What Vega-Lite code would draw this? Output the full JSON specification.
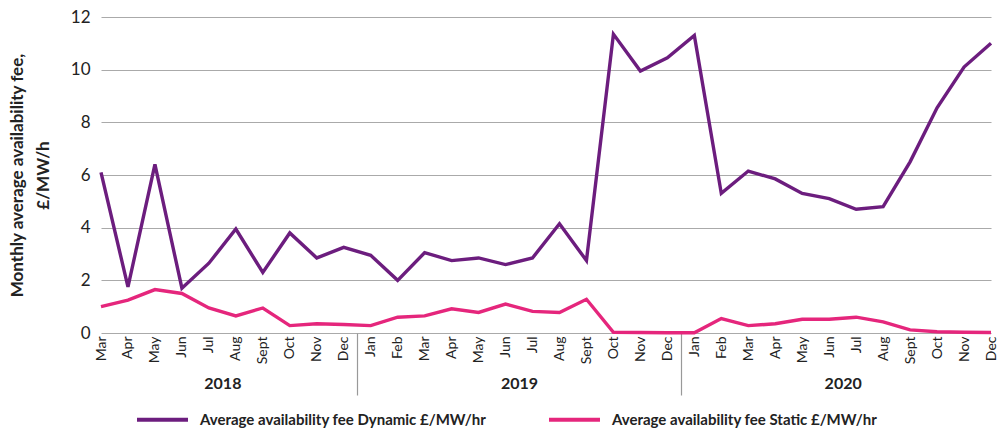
{
  "$schema": "https://vega.github.io/schema/vega-lite/v6.json",
  "width": 890,
  "height": 316,
  "autosize": {"type": "none"},
  "padding": {"left": 101, "top": 17, "right": 14, "bottom": 95},
  "background": "white",
  "config": {
    "font": "Lato",
    "view": {"stroke": null},
    "axis": {"labelColor": "#222", "titleColor": "#222"}
  },
  "datasets": {
    "fees": [
      {"t": 0, "series": "Average availability fee Dynamic £/MW/hr", "value": 6.1},
      {"t": 1, "series": "Average availability fee Dynamic £/MW/hr", "value": 1.75},
      {"t": 2, "series": "Average availability fee Dynamic £/MW/hr", "value": 6.4},
      {"t": 3, "series": "Average availability fee Dynamic £/MW/hr", "value": 1.7},
      {"t": 4, "series": "Average availability fee Dynamic £/MW/hr", "value": 2.65},
      {"t": 5, "series": "Average availability fee Dynamic £/MW/hr", "value": 3.95},
      {"t": 6, "series": "Average availability fee Dynamic £/MW/hr", "value": 2.3},
      {"t": 7, "series": "Average availability fee Dynamic £/MW/hr", "value": 3.8},
      {"t": 8, "series": "Average availability fee Dynamic £/MW/hr", "value": 2.85},
      {"t": 9, "series": "Average availability fee Dynamic £/MW/hr", "value": 3.25},
      {"t": 10, "series": "Average availability fee Dynamic £/MW/hr", "value": 2.95},
      {"t": 11, "series": "Average availability fee Dynamic £/MW/hr", "value": 2.0},
      {"t": 12, "series": "Average availability fee Dynamic £/MW/hr", "value": 3.05},
      {"t": 13, "series": "Average availability fee Dynamic £/MW/hr", "value": 2.75},
      {"t": 14, "series": "Average availability fee Dynamic £/MW/hr", "value": 2.85},
      {"t": 15, "series": "Average availability fee Dynamic £/MW/hr", "value": 2.6},
      {"t": 16, "series": "Average availability fee Dynamic £/MW/hr", "value": 2.85},
      {"t": 17, "series": "Average availability fee Dynamic £/MW/hr", "value": 4.15},
      {"t": 18, "series": "Average availability fee Dynamic £/MW/hr", "value": 2.75},
      {"t": 19, "series": "Average availability fee Dynamic £/MW/hr", "value": 11.35},
      {"t": 20, "series": "Average availability fee Dynamic £/MW/hr", "value": 9.95},
      {"t": 21, "series": "Average availability fee Dynamic £/MW/hr", "value": 10.45},
      {"t": 22, "series": "Average availability fee Dynamic £/MW/hr", "value": 11.3},
      {"t": 23, "series": "Average availability fee Dynamic £/MW/hr", "value": 5.3},
      {"t": 24, "series": "Average availability fee Dynamic £/MW/hr", "value": 6.15},
      {"t": 25, "series": "Average availability fee Dynamic £/MW/hr", "value": 5.85},
      {"t": 26, "series": "Average availability fee Dynamic £/MW/hr", "value": 5.3},
      {"t": 27, "series": "Average availability fee Dynamic £/MW/hr", "value": 5.1},
      {"t": 28, "series": "Average availability fee Dynamic £/MW/hr", "value": 4.7},
      {"t": 29, "series": "Average availability fee Dynamic £/MW/hr", "value": 4.8},
      {"t": 30, "series": "Average availability fee Dynamic £/MW/hr", "value": 6.5},
      {"t": 31, "series": "Average availability fee Dynamic £/MW/hr", "value": 8.55},
      {"t": 32, "series": "Average availability fee Dynamic £/MW/hr", "value": 10.1},
      {"t": 33, "series": "Average availability fee Dynamic £/MW/hr", "value": 11.0},
      {"t": 0, "series": "Average availability fee Static £/MW/hr", "value": 1.0},
      {"t": 1, "series": "Average availability fee Static £/MW/hr", "value": 1.25},
      {"t": 2, "series": "Average availability fee Static £/MW/hr", "value": 1.65},
      {"t": 3, "series": "Average availability fee Static £/MW/hr", "value": 1.5},
      {"t": 4, "series": "Average availability fee Static £/MW/hr", "value": 0.95},
      {"t": 5, "series": "Average availability fee Static £/MW/hr", "value": 0.65},
      {"t": 6, "series": "Average availability fee Static £/MW/hr", "value": 0.95},
      {"t": 7, "series": "Average availability fee Static £/MW/hr", "value": 0.28},
      {"t": 8, "series": "Average availability fee Static £/MW/hr", "value": 0.35},
      {"t": 9, "series": "Average availability fee Static £/MW/hr", "value": 0.32},
      {"t": 10, "series": "Average availability fee Static £/MW/hr", "value": 0.28},
      {"t": 11, "series": "Average availability fee Static £/MW/hr", "value": 0.6},
      {"t": 12, "series": "Average availability fee Static £/MW/hr", "value": 0.65},
      {"t": 13, "series": "Average availability fee Static £/MW/hr", "value": 0.92},
      {"t": 14, "series": "Average availability fee Static £/MW/hr", "value": 0.78},
      {"t": 15, "series": "Average availability fee Static £/MW/hr", "value": 1.1},
      {"t": 16, "series": "Average availability fee Static £/MW/hr", "value": 0.82},
      {"t": 17, "series": "Average availability fee Static £/MW/hr", "value": 0.78},
      {"t": 18, "series": "Average availability fee Static £/MW/hr", "value": 1.28},
      {"t": 19, "series": "Average availability fee Static £/MW/hr", "value": 0.03},
      {"t": 20, "series": "Average availability fee Static £/MW/hr", "value": 0.02},
      {"t": 21, "series": "Average availability fee Static £/MW/hr", "value": 0.01},
      {"t": 22, "series": "Average availability fee Static £/MW/hr", "value": 0.01},
      {"t": 23, "series": "Average availability fee Static £/MW/hr", "value": 0.55},
      {"t": 24, "series": "Average availability fee Static £/MW/hr", "value": 0.28},
      {"t": 25, "series": "Average availability fee Static £/MW/hr", "value": 0.35},
      {"t": 26, "series": "Average availability fee Static £/MW/hr", "value": 0.52},
      {"t": 27, "series": "Average availability fee Static £/MW/hr", "value": 0.52},
      {"t": 28, "series": "Average availability fee Static £/MW/hr", "value": 0.6},
      {"t": 29, "series": "Average availability fee Static £/MW/hr", "value": 0.42},
      {"t": 30, "series": "Average availability fee Static £/MW/hr", "value": 0.12},
      {"t": 31, "series": "Average availability fee Static £/MW/hr", "value": 0.05},
      {"t": 32, "series": "Average availability fee Static £/MW/hr", "value": 0.03},
      {"t": 33, "series": "Average availability fee Static £/MW/hr", "value": 0.02}
    ],
    "years": [
      {"t": 4.5, "year": "2018"},
      {"t": 15.5, "year": "2019"},
      {"t": 27.5, "year": "2020"}
    ],
    "separators": [
      {"t": 9.5},
      {"t": 21.5}
    ]
  },
  "resolve": {"axis": {"x": "independent"}},
  "layer": [
    {
      "data": {"name": "fees"},
      "mark": {"type": "line", "strokeWidth": 3.4, "strokeJoin": "miter"},
      "encoding": {
        "x": {
          "field": "t",
          "type": "quantitative",
          "scale": {"domain": [0, 33], "nice": false, "zero": false},
          "axis": {
            "orient": "bottom",
            "title": null,
            "values": [0,1,2,3,4,5,6,7,8,9,10,11,12,13,14,15,16,17,18,19,20,21,22,23,24,25,26,27,28,29,30,31,32,33],
            "labelExpr": "['Mar','Apr','May','Jun','Jul','Aug','Sept','Oct','Nov','Dec','Jan','Feb','Mar','Apr','May','Jun','Jul','Aug','Sept','Oct','Nov','Dec','Jan','Feb','Mar','Apr','May','Jun','Jul','Aug','Sept','Oct','Nov','Dec'][datum.value]",
            "labelAngle": -90,
            "labelFontSize": 14,
            "labelPadding": 3,
            "ticks": false,
            "domain": false,
            "grid": false,
            "labelOverlap": false,
            "labelFlush": false
          }
        },
        "y": {
          "field": "value",
          "type": "quantitative",
          "scale": {"domain": [0, 12], "nice": false},
          "axis": {
            "title": ["Monthly average availability fee,", "£/MW/h"],
            "titleFontSize": 17,
            "titleFontWeight": "bold",
            "titlePadding": 18,
            "titleLineHeight": 26,
            "values": [0, 2, 4, 6, 8, 10, 12],
            "labelFontSize": 17,
            "labelPadding": 11,
            "ticks": false,
            "domain": false,
            "gridColor": "#aaaaaa",
            "gridWidth": 1.2
          }
        },
        "color": {
          "field": "series",
          "type": "nominal",
          "scale": {"range": ["#6c1d7e", "#e5267c"]},
          "legend": {
            "title": null,
            "orient": "none",
            "direction": "horizontal",
            "legendX": 34,
            "legendY": 375,
            "symbolType": "stroke",
            "symbolSize": 2600,
            "symbolStrokeWidth": 4,
            "labelFontSize": 15,
            "labelFontWeight": "bold",
            "labelColor": "#222",
            "labelLimit": 500,
            "labelOffset": 10,
            "columnPadding": 54,
            "padding": 0
          }
        }
      }
    },
    {
      "data": {"name": "years"},
      "mark": {"type": "point", "opacity": 0},
      "encoding": {
        "x": {
          "field": "t",
          "type": "quantitative",
          "scale": {"domain": [0, 33], "nice": false, "zero": false},
          "axis": {
            "orient": "bottom",
            "title": null,
            "values": [4.5, 15.5, 27.5],
            "labelExpr": "datum.value < 10 ? '2018' : datum.value < 22 ? '2019' : '2020'",
            "labelFontSize": 16,
            "labelFontWeight": "bold",
            "labelPadding": 42,
            "ticks": false,
            "domain": false,
            "grid": false
          }
        }
      }
    },
    {
      "data": {"name": "separators"},
      "mark": {"type": "point", "opacity": 0},
      "encoding": {
        "x": {
          "field": "t",
          "type": "quantitative",
          "scale": {"domain": [0, 33], "nice": false, "zero": false},
          "axis": {
            "orient": "bottom",
            "title": null,
            "values": [9.5, 21.5],
            "labelExpr": "''",
            "ticks": true,
            "tickSize": 62,
            "tickColor": "#999999",
            "tickWidth": 1.2,
            "domain": false,
            "grid": false
          }
        }
      }
    }
  ]
}
